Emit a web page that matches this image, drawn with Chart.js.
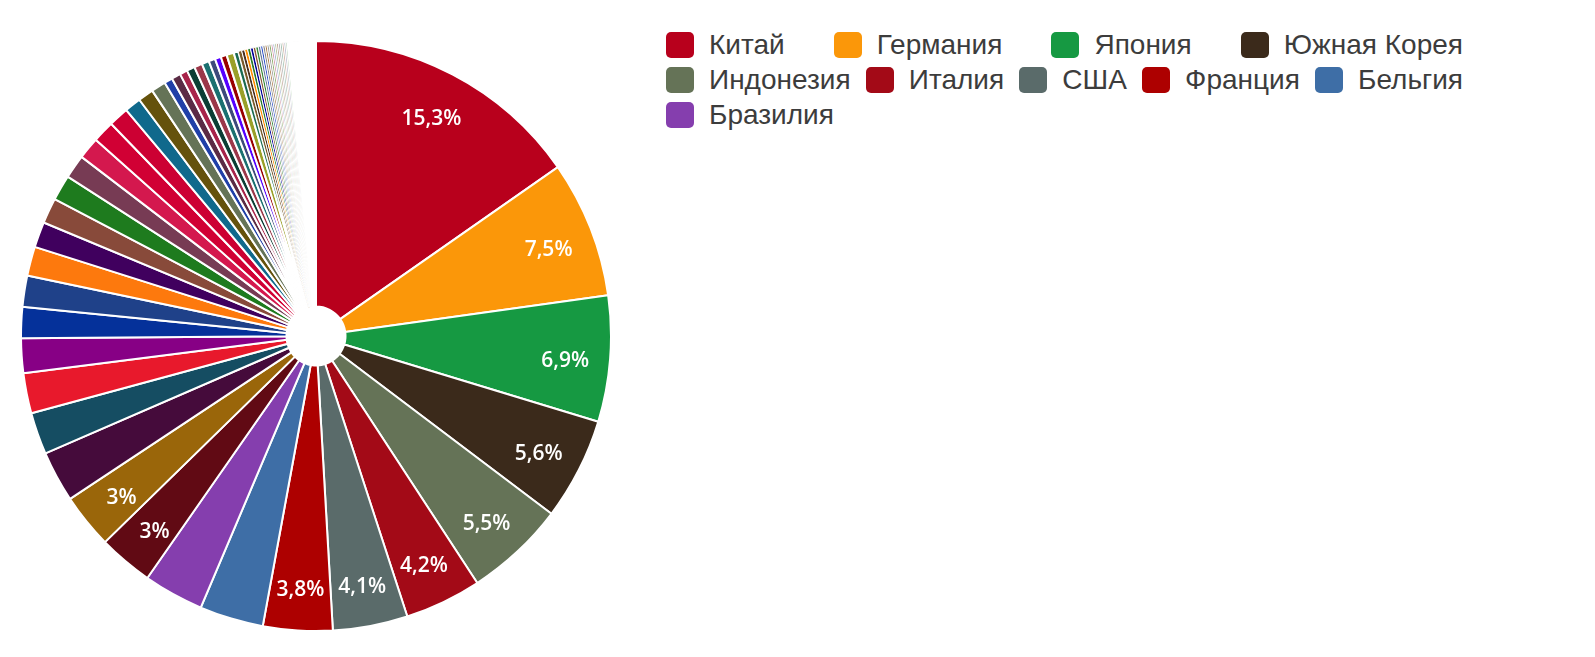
<!DOCTYPE html>
<html>
<head>
<meta charset="utf-8">
<script src="https://cdn.jsdelivr.net/npm/chart.js@4/dist/chart.umd.min.js"></script>
<style>
  html, body { margin: 0; padding: 0; background: #fff; }
  body { width: 1595px; height: 657px; position: relative; overflow: hidden; }
  #pieBox { position: absolute; left: 20px; top: 40px; width: 592px; height: 592px; }
  #legend {
    position: absolute; left: 666px; top: 27px; width: 797px;
    display: flex; flex-wrap: wrap; justify-content: space-between; column-gap: 12px;
    font-family: "Liberation Sans", Arial, sans-serif; font-size: 28px; color: #3c3c3c;
  }
  #legend .item { display: flex; align-items: center; height: 35px; white-space: nowrap; }
  #legend .sw { width: 28px; height: 26px; border-radius: 5px; margin-right: 15px; }
  #legend .spacer { flex: 1 0 0; }
</style>
</head>
<body>
<div id="pieBox"><canvas id="pie"></canvas></div>
<div id="legend"></div>
<script>
'use strict';

// страны в легенде (первые 10 секторов)
const countries = ['Китай', 'Германия', 'Япония', 'Южная Корея', 'Индонезия',
  'Италия', 'США', 'Франция', 'Бельгия', 'Бразилия'];

// доли, %, по часовой стрелке от 12 часов
const mainShares = [15.3, 7.5, 6.9, 5.6, 5.5, 4.2, 4.1, 3.8, 3.5, 3.3,
  3, 3, 2.8, 2.3, 2.2, 1.9, 1.7, 1.7, 1.6, 1.4,
  1.4, 1.4, 1.3, 1.2, 1.2, 1.1, 0.9, 0.85, 0.8, 0.45,
  0.5, 0.42, 0.44, 0.44, 0.4, 0.36, 0.33, 0.33, 0.4, 0.25];
const thinShares = [0.19, 0.17, 0.16, 0.16, 0.15, 0.14, 0.14, 0.13, 0.12, 0.12,
  0.11, 0.11, 0.11, 0.1, 0.1, 0.1, 0.1, 0.1, 0.1, 0.1, 0.1, 0.1];
const tinyShares = [0.06, 0.06, 0.06, 0.05, 0.05, 0.05, 0.05, 0.05,
  0.04, 0.04, 0.04, 0.04, 0.04, 0.04, 0.04,
  0.03, 0.03, 0.03, 0.03, 0.03, 0.03, 0.03, 0.03, 0.03, 0.03, 0.03, 0.03, 0.03,
  0.02, 0.02, 0.02, 0.02, 0.02, 0.02, 0.02, 0.02, 0.02, 0.02, 0.02, 0.02, 0.02, 0.02, 0.02, 0.02, 0.02,
  0.01, 0.01, 0.01, 0.01, 0.01, 0.01, 0.01, 0.01, 0.01, 0.01];

// у каких секторов есть подпись
const labelled = [0, 1, 2, 3, 4, 5, 6, 7, 10, 11];

const mainColors = ['#b8001c', '#fb9709', '#169942', '#3b2a1b', '#657357', '#a30a17', '#5a6b6a', '#ad0000', '#3e6ea6', '#853eae',
  '#610a14', '#9a660a', '#450b3b', '#154d62', '#e8192c', '#870085', '#05319a', '#1f4189', '#fd790d', '#40005e',
  '#884a3a', '#1e7b1e', '#773b54', '#d4184e', '#d10034', '#cc0033', '#10698c', '#65520c', '#657357', '#2040a8',
  '#5b2b45', '#a8244a', '#0b3e34', '#9b3849', '#1b7070', '#3d4a7b', '#5500ff', '#990000', '#9aa028', '#1a6a50'];
const thinColors = ['#7a5a2a', '#4a3020', '#ff8c00', '#2a7a2a', '#000099', '#8a5a3a', '#3a8a3a', '#6a7a9a', '#3355cc', '#888888',
  '#aa7744', '#999999', '#88aa66', '#cc8899', '#99aacc', '#aabb88', '#bb9988', '#aaaaaa', '#99bbaa', '#ccaa99',
  '#bbbbcc', '#aaccaa'];
const tinyPalette = ['#d8d8e4', '#dde4d8', '#e4d8d8', '#d8e4e4', '#e4ddd0'];

const shares = mainShares.concat(thinShares, tinyShares);
const colors = mainColors.concat(thinColors, tinyShares.map((_, i) => tinyPalette[i % tinyPalette.length]));
const labels = shares.map((_, i) => countries[i] || '');
const thinEnd = mainShares.length + thinShares.length;

function fmtPct(v) {
  return v.toLocaleString('ru-RU', { maximumFractionDigits: 1 }) + '%';
}

// подписи внутри секторов
const sliceLabels = {
  id: 'sliceLabels',
  afterDatasetsDraw(chart) {
    const ctx = chart.ctx;
    const meta = chart.getDatasetMeta(0);
    ctx.save();
    ctx.fillStyle = '#fff';
    ctx.font = '600 21px "Open Sans", "Noto Sans", sans-serif';
    ctx.textAlign = 'center';
    ctx.textBaseline = 'middle';
    for (const i of labelled) {
      const a = meta.data[i];
      const p = a.getProps(['x', 'y', 'startAngle', 'endAngle', 'innerRadius', 'outerRadius'], true);
      const mid = (p.startAngle + p.endAngle) / 2;
      const r = p.innerRadius + 0.83 * (p.outerRadius - p.innerRadius);
      ctx.fillText(fmtPct(shares[i]), p.x + Math.cos(mid) * r, p.y + Math.sin(mid) * r + 5);
    }
    ctx.restore();
  },
};

new Chart(document.getElementById('pie'), {
  type: 'doughnut',
  data: {
    labels,
    datasets: [{
      data: shares,
      backgroundColor: colors,
      borderColor: '#fff',
      // у тонких секторов граница тоньше, иначе они пропадают
      borderWidth: (c) => (c.dataIndex >= mainShares.length && c.dataIndex < thinEnd ? 1 : 2),
    }],
  },
  options: {
    responsive: true,
    maintainAspectRatio: false,
    animation: false,
    cutout: '10%',
    layout: { padding: 0 },
    plugins: { legend: { display: false }, tooltip: { enabled: false } },
  },
  plugins: [sliceLabels],
});

// легенда
const legend = document.getElementById('legend');
countries.forEach((name, i) => {
  const item = document.createElement('div');
  item.className = 'item';
  item.innerHTML = `<span class="sw" style="background:${colors[i]}"></span><span>${name}</span>`;
  legend.appendChild(item);
});
const spacer = document.createElement('div');
spacer.className = 'spacer';
legend.appendChild(spacer);
</script>
</body>
</html>
